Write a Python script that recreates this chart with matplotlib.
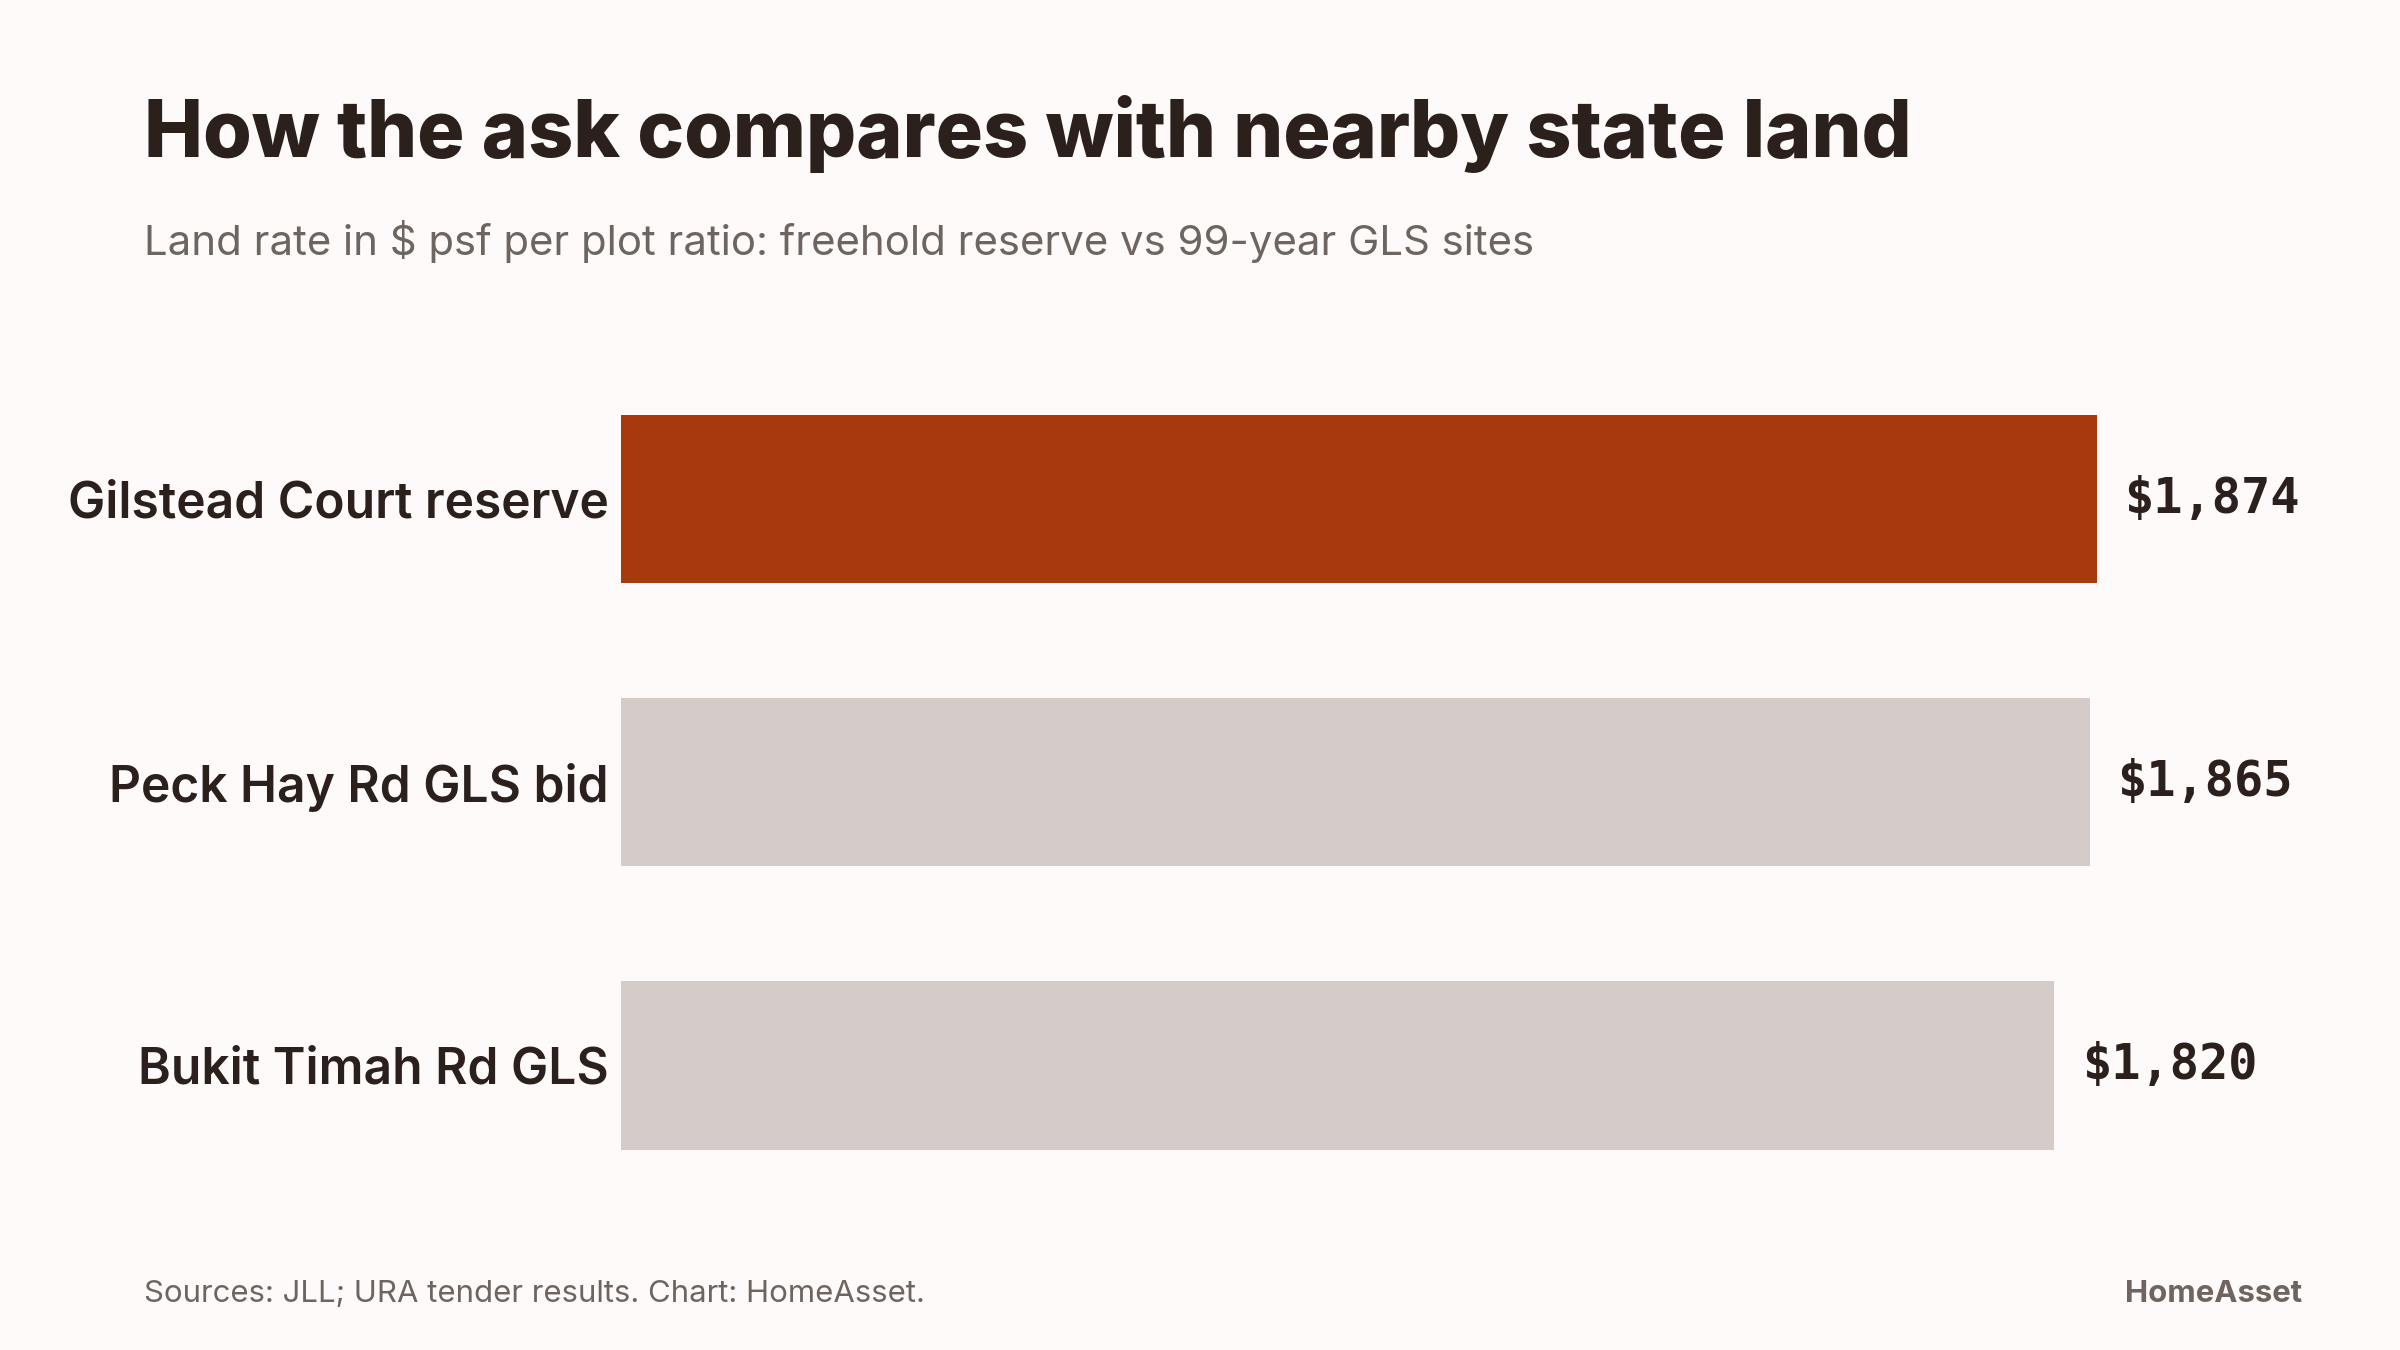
import matplotlib.pyplot as plt

categories = ["Gilstead Court reserve", "Peck Hay Rd GLS bid", "Bukit Timah Rd GLS"]
values = [1874, 1865, 1820]
highlight = [True, False, False]

BG = "#fdfaf9"
DARK = "#2b201c"
GREY_TXT = "#6e6561"
ACCENT = "#a63a0c"
BAR_GREY = "#d5ccc9"

fig = plt.figure(figsize=(24, 13.5), dpi=100, facecolor=BG)

# title + subtitle
fig.text(0.06, 0.884, "How the ask compares with nearby state land",
         fontsize=56.8, fontweight="heavy", color=DARK, family=["Inter", "DejaVu Sans"],
         ha="left", va="baseline")
fig.text(0.06, 0.811, "Land rate in $ psf per plot ratio: freehold reserve vs 99-year GLS sites",
         fontsize=30.2, color=GREY_TXT, family=["Inter", "DejaVu Sans"],
         ha="left", va="baseline")

ax = fig.add_axes([0.2589, 0.0975, 0.9592 - 0.2589, 0.6463])
ax.set_facecolor(BG)

ypos = list(range(len(categories)))
colors = [ACCENT if h else BAR_GREY for h in highlight]
ax.barh(ypos, values, height=0.595, color=colors, edgecolor="none")
ax.set_xlim(0, 2135)
ax.set_ylim(len(categories) - 0.46, -0.54)

ax.set_yticks(ypos)
ax.set_yticklabels(categories, fontsize=35.8, fontweight="semibold", color=DARK,
                   family=["Inter", "DejaVu Sans"])
ax.tick_params(axis="y", length=0, pad=9)
ax.set_xticks([])
for s in ax.spines.values():
    s.set_visible(False)

for y, v in zip(ypos, values):
    ax.annotate(f"${v:,}", xy=(v, y), xytext=(20, 0), textcoords="offset points",
                ha="left", va="center", fontsize=35, fontweight="bold", color=DARK,
                family=["DejaVu Sans Mono"])

# footer
fig.text(0.06, 0.0358, "Sources: JLL; URA tender results. Chart: HomeAsset.",
         fontsize=22.4, color=GREY_TXT, family=["Inter", "DejaVu Sans"],
         ha="left", va="baseline")
fig.text(0.9592, 0.0358, "HomeAsset", fontsize=22.4, fontweight="bold", color=GREY_TXT,
         family=["Inter", "DejaVu Sans"], ha="right", va="baseline")

fig.savefig("out.png", dpi=100, facecolor=BG)
